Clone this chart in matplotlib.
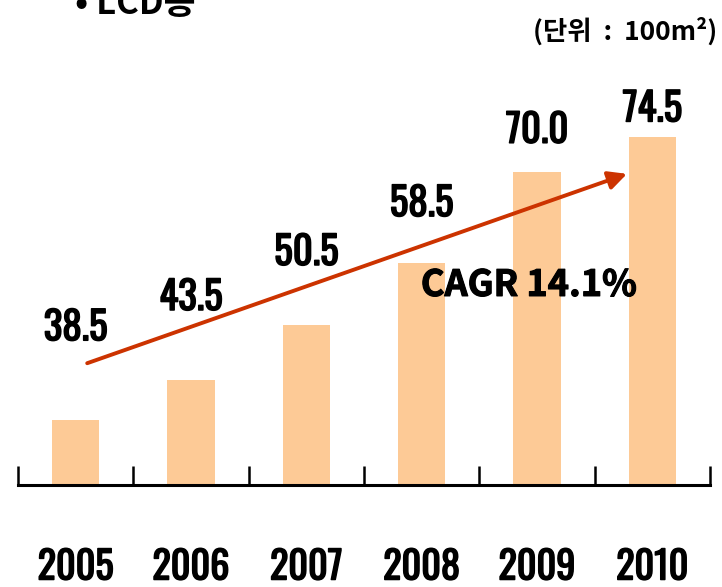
import matplotlib.pyplot as plt
import matplotlib.patheffects as pe

plt.rcParams['font.family'] = ['Noto Sans CJK KR', 'DejaVu Sans']

# dati
years = ['2005', '2006', '2007', '2008', '2009', '2010']
values = [38.5, 43.5, 50.5, 58.5, 70.0, 74.5]
value_labels = ['38.5', '43.5', '50.5', '58.5', '70.0', '74.5']
label_offsets = [92, 83, 73, 59, 42, 28]   # pixel sopra la barra
cagr_text = 'CAGR 14.1%'
title = '• LCD용'
unit = '(단위  :  100m²)'

NUM_FONT = 'Oswald'
bold_fx = [pe.withStroke(linewidth=1.1, foreground='black')]

W, H = 722, 587
fig = plt.figure(figsize=(W / 100, H / 100), dpi=100)
ax = fig.add_axes([18 / W, 102 / H, 692 / W, 385 / H])

x = list(range(len(years)))
ax.bar(x, values, width=0.41, color='#FDCA96', zorder=2)
ax.set_xlim(-0.5, 5.5)
ax.set_ylim(30.2, 79.2)

for s in ['top', 'left', 'right']:
    ax.spines[s].set_visible(False)
ax.spines['bottom'].set_linewidth(2.2)
ax.set_yticks([])

ax.set_xticks(x)
ax.set_xticklabels(years, family=NUM_FONT, fontweight='bold', fontsize=27.5, path_effects=bold_fx)
ax.tick_params(axis='x', which='major', length=0, pad=45)
ax.set_xticks([i - 0.5 for i in range(len(years) + 1)], minor=True)
ax.tick_params(axis='x', which='minor', direction='in', length=14, width=1.8)

for xi, v, lab, off in zip(x, values, value_labels, label_offsets):
    ax.annotate(lab, (xi, v), xytext=(0, off * 0.72), textcoords='offset points',
                ha='center', va='center', family=NUM_FONT,
                fontweight='bold', fontsize=28, path_effects=bold_fx)

ax.annotate('', xy=(4.78, 69.8), xytext=(0.1, 45.7),
            arrowprops=dict(arrowstyle='-|>,head_length=1.1,head_width=0.55',
                            color='#CC3300', lw=2.8, shrinkA=0, shrinkB=0), zorder=3)

ax.text(3.93, 55.6, cagr_text, ha='center', va='center', fontsize=26,
        fontweight='bold', zorder=4,
        path_effects=[pe.withStroke(linewidth=0.8, foreground='black')])

fig.text(75 / W, 1 - 14 / H, title, ha='left', va='baseline', fontsize=25, fontweight='bold')
fig.text(717 / W, 1 - 32 / H, unit, ha='right', va='center', fontsize=19, fontweight='bold')

fig.savefig('out.png', dpi=100)
